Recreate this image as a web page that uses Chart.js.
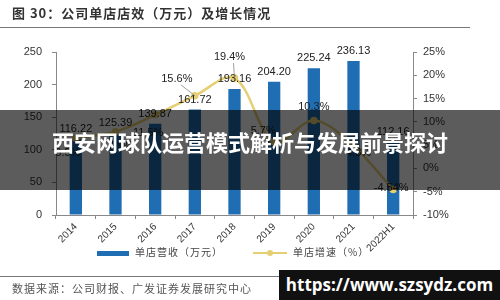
<!DOCTYPE html>
<html>
<head>
<meta charset="utf-8">
<script src="https://cdn.jsdelivr.net/npm/chart.js@4.4.0/dist/chart.umd.min.js"></script>
<style>
  body { margin: 0; width: 500px; height: 300px; overflow: hidden; background: #fff; position: relative;
         font-family: "Noto Sans CJK SC", "Liberation Sans", sans-serif; }
  #c { position: absolute; left: 0; top: 0; }
  .title { position: absolute; left: 12px; top: 3px; font-size: 13px; font-weight: bold; color: #333; letter-spacing: 1px; }
  .rule { position: absolute; left: 0; width: 470px; height: 1px; background: #777; }
  .src { position: absolute; left: 12px; top: 280px; font-size: 11px; color: #555; letter-spacing: 1px; }
  .legend { position: absolute; top: 244px; font-size: 10px; color: #444; letter-spacing: 1px; }
  .banner { position: absolute; left: 0; top: 110px; width: 500px; height: 80px; background: rgba(0,0,0,0.64);
            color: #fff; font-size: 22px; font-weight: bold; text-align: center; line-height: 62px; }
  .wm { position: absolute; left: 279px; top: 270px; width: 221px; height: 30px; background: #111;
        color: #fff; font-family: "Open Sans", "DejaVu Sans", sans-serif; font-size: 17px; font-weight: bold;
        line-height: 30px; text-align: center; }
</style>
</head>
<body>
<canvas id="c" width="500" height="300"></canvas>
<div class="title">图 30：公司单店店效（万元）及增长情况</div>
<div class="rule" style="top:27px"></div>
<div class="legend" style="left:97px"><span style="display:inline-block;width:32px;height:5px;background:#1f6db2;vertical-align:middle;margin-right:6px"></span>单店营收（万元）</div>
<div class="legend" style="left:253px"><span style="display:inline-block;position:relative;width:34px;height:2px;background:#e6cf72;vertical-align:middle;margin-right:6px"><span style="position:absolute;left:14px;top:-2px;width:6px;height:6px;border-radius:3px;background:#e6cf72"></span></span>单店增速（%）</div>
<div class="rule" style="top:276px"></div>
<div class="src">数据来源：公司财报、广发证券发展研究中心</div>
<div class="banner">西安网球队运营模式解析与发展前景探讨</div>
<div class="wm">https://www.szsydz.com</div>
<script>
const years = ['2014', '2015', '2016', '2017', '2018', '2019', '2020', '2021', '2022H1'];
const revenue = [116.22, 125.39, 139.87, 161.72, 193.16, 204.20, 225.24, 236.13, 112.16];
const growth = [6.5, 7.9, 11.5, 15.6, 19.4, 5.7, 10.3, 4.8, -4.54];
const leftTicks = [0, 50, 100, 150, 200, 250];
const rightTicks = [-10, -5, 0, 5, 10, 15, 20, 25];

// label offsets for the growth labels (dx, dy, leader line)
const growthLabelPos = [[-8, 15], [5, 14], [-7, 18], [-18, -17, true], [-5, -21, true], [-11, -11], [0, -13], [5, 7], [-2, -2]];

const labelPlugin = {
  id: 'labels',
  afterDatasetsDraw(chart) {
    const c = chart.ctx;
    c.save();
    c.font = '11px "Liberation Sans", Arial, sans-serif';
    c.fillStyle = '#222';
    c.textAlign = 'center';
    c.textBaseline = 'middle';
    chart.getDatasetMeta(1).data.forEach((bar, i) => {
      c.fillText(revenue[i].toFixed(2), bar.x, bar.y - 10);
    });
    chart.getDatasetMeta(0).data.forEach((pt, i) => {
      const p = growthLabelPos[i];
      const lx = pt.x + p[0], ly = pt.y + p[1];
      if (p[2]) {
        c.strokeStyle = '#888';
        c.lineWidth = 0.8;
        c.beginPath();
        c.moveTo(lx + 4, ly + 6);
        c.lineTo(pt.x, pt.y);
        c.stroke();
      }
      c.fillText(growth[i] + '%', lx, ly);
    });
    c.restore();
  }
};

const tickFont = { family: '"Liberation Sans", Arial, sans-serif', size: 11 };

new Chart(document.getElementById('c'), {
  data: {
    labels: years,
    datasets: [{
      type: 'line',
      label: '单店增速（%）',
      data: growth,
      yAxisID: 'y1',
      borderColor: '#e6cf72',
      backgroundColor: '#e6cf72',
      borderWidth: 2.5,
      pointRadius: 2.5,
      tension: 0.35,
      order: 0
    }, {
      type: 'bar',
      label: '单店营收（万元）',
      data: revenue,
      yAxisID: 'y',
      backgroundColor: '#1f6db2',
      categoryPercentage: 1,
      barPercentage: 0.31,
      order: 1
    }]
  },
  options: {
    responsive: false,
    animation: false,
    layout: { padding: { top: 52, left: 0, right: 0, bottom: 0 } },
    plugins: { legend: { display: false }, tooltip: { enabled: false } },
    scales: {
      x: {
        offset: true,
        grid: { display: true, drawOnChartArea: false, drawTicks: true, tickLength: 4, offset: true, color: '#888' },
        border: { color: '#888' },
        ticks: { font: { family: tickFont.family, size: 10 }, color: '#333', maxRotation: 45, minRotation: 45, padding: 2 },
        afterFit(s) { s.height = 85; }
      },
      y: {
        position: 'left',
        min: 0, max: 250,
        afterBuildTicks(s) { s.ticks = leftTicks.map(v => ({ value: v })); },
        grid: { display: true, drawOnChartArea: false, tickLength: 4, color: '#888' },
        border: { color: '#888' },
        ticks: { font: tickFont, color: '#333', padding: 10 },
        afterFit(s) { s.width = 56; }
      },
      y1: {
        position: 'right',
        min: -10, max: 25,
        afterBuildTicks(s) { s.ticks = rightTicks.map(v => ({ value: v })); },
        grid: { display: true, drawOnChartArea: false, tickLength: 4, color: '#888' },
        border: { color: '#888' },
        ticks: { font: tickFont, color: '#333', padding: 6, callback: v => v + '%' },
        afterFit(s) { s.width = 87; }
      }
    }
  },
  plugins: [labelPlugin]
});
</script>
</body>
</html>
